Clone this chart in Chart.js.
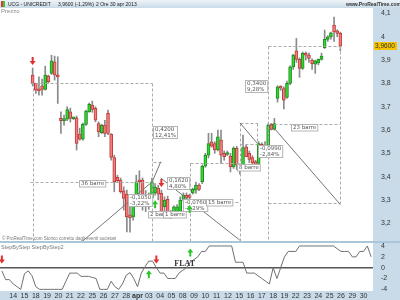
<!DOCTYPE html>
<html><head><meta charset="utf-8">
<script src="https://cdn.jsdelivr.net/npm/chart.js@4.4.0/dist/chart.umd.min.js"></script>
<style>
html,body{margin:0;padding:0;background:#fff;}
#wrap{position:relative;width:400px;height:300px;overflow:hidden;font-family:"Liberation Sans",Arial,sans-serif;}
#hdr{position:absolute;left:0;top:0;width:400px;height:8px;background:linear-gradient(#eef4f8,#c9dbe8);z-index:5;font-size:5px;line-height:8px;color:#222;white-space:nowrap;}
#hdr span{position:absolute;top:0;}
#icon{position:absolute;left:1px;top:1px;width:4px;height:6px;background:linear-gradient(90deg,#e33 50%,#3c3 50%);}
.lbl{position:absolute;white-space:nowrap;z-index:4;}
canvas{position:absolute;left:0;}
#sep{position:absolute;left:0;top:241px;width:400px;height:2px;background:#a9c6da;z-index:3;}
</style></head>
<body><div id="wrap">
<div id="hdr"><div id="icon"></div><span style="left:8px">UCG - UNICREDIT</span><span style="left:58px">3,9600 (-1,29%)</span><span style="left:96px">2 Ore</span><span style="left:110px">30 apr 2013</span><span style="left:346px;font-weight:bold;color:#333">www.ProRealTime.com</span></div>
<div class="lbl" style="left:1px;top:8px;font-size:6px;color:#888">Prezzo</div>
<div class="lbl" style="left:2px;top:236px;font-size:4.5px;color:#777">© ProRealTime.com  Storico corretto dagli eventi societari</div>
<div class="lbl" style="left:1px;top:244px;font-size:5.5px;color:#777">StepByStep StepByStep2</div>
<div id="sep"></div>
<canvas id="c1" width="400" height="243" style="top:0"></canvas>
<canvas id="c2" width="400" height="57" style="top:243px"></canvas>
</div>
<script>
// ---- data ----
const dayLabels = ['14','15','18','19','20','21','22','25','26','27','28','apr','03','04','05','08','09','10','11','12','15','16','17','18','19','22','23','24','25','26','29','30'];
const barsPerDay = 3;
const opens  = [3.836,3.800,3.774,3.788,3.774,3.831,3.843,3.893,3.836,3.650,3.640,3.646,3.678,3.648,3.652,3.582,3.561,3.624,3.678,3.707,3.693,3.628,3.588,3.621,3.671,3.582,3.482,3.397,3.385,3.339,3.325,3.236,3.227,3.285,3.380,3.385,3.310,3.300,3.307,3.330,3.351,3.328,3.271,3.302,3.238,3.242,3.242,3.242,3.302,3.321,3.321,3.330,3.342,3.364,3.378,3.445,3.492,3.549,3.542,3.514,3.557,3.500,3.495,3.488,3.442,3.521,3.425,3.449,3.528,3.500,3.482,3.464,3.457,3.539,3.520,3.535,3.625,3.603,3.736,3.788,3.778,3.740,3.800,3.871,3.940,3.903,3.864,3.929,3.921,3.900,3.883,3.888,3.903,3.953,3.989,4.000,4.050,4.026,4.015];
const highs  = [3.866,3.801,3.828,3.818,3.874,3.836,3.921,3.917,3.914,3.678,3.664,3.700,3.694,3.655,3.660,3.608,3.630,3.685,3.715,3.724,3.700,3.635,3.625,3.642,3.685,3.585,3.492,3.406,3.394,3.356,3.342,3.285,3.299,3.406,3.425,3.394,3.340,3.330,3.394,3.370,3.363,3.342,3.313,3.316,3.255,3.275,3.280,3.313,3.330,3.330,3.325,3.350,3.376,3.370,3.450,3.500,3.586,3.586,3.550,3.600,3.600,3.510,3.510,3.500,3.528,3.530,3.455,3.578,3.535,3.510,3.490,3.470,3.550,3.545,3.550,3.628,3.628,3.650,3.790,3.790,3.785,3.810,3.875,3.925,3.993,3.910,3.935,3.935,3.930,3.905,3.900,3.905,3.930,4.029,4.005,4.020,4.085,4.030,4.020];
const lows   = [3.789,3.757,3.750,3.750,3.771,3.801,3.839,3.814,3.714,3.585,3.621,3.640,3.634,3.645,3.514,3.556,3.556,3.620,3.676,3.676,3.635,3.571,3.585,3.571,3.580,3.471,3.335,3.376,3.329,3.256,3.163,3.161,3.213,3.272,3.295,3.256,3.250,3.260,3.285,3.320,3.300,3.234,3.234,3.234,3.220,3.230,3.235,3.238,3.295,3.300,3.300,3.325,3.328,3.340,3.370,3.440,3.480,3.526,3.500,3.510,3.456,3.470,3.490,3.420,3.435,3.430,3.410,3.445,3.485,3.460,3.445,3.432,3.450,3.515,3.515,3.520,3.600,3.600,3.720,3.770,3.690,3.735,3.795,3.860,3.890,3.826,3.860,3.900,3.890,3.860,3.843,3.880,3.900,3.950,3.980,3.990,3.980,4.000,3.940];
const closes = [3.800,3.771,3.768,3.774,3.836,3.807,3.897,3.836,3.828,3.640,3.646,3.688,3.650,3.652,3.542,3.561,3.624,3.681,3.710,3.688,3.642,3.592,3.621,3.585,3.585,3.482,3.378,3.382,3.335,3.306,3.227,3.223,3.286,3.378,3.378,3.306,3.300,3.310,3.378,3.355,3.325,3.242,3.299,3.242,3.242,3.270,3.270,3.299,3.321,3.307,3.311,3.345,3.364,3.345,3.445,3.492,3.542,3.531,3.514,3.571,3.492,3.485,3.500,3.442,3.521,3.449,3.449,3.525,3.485,3.474,3.459,3.442,3.542,3.521,3.535,3.621,3.603,3.628,3.785,3.780,3.728,3.800,3.871,3.921,3.903,3.864,3.929,3.921,3.907,3.885,3.897,3.903,3.917,3.989,4.000,4.017,4.021,4.015,3.960];
const stepValues = [-0.6,-2.2,-2.2,-3,-3.5,-4,-1.1,-0.6,-1.5,-3.5,-4,-4,-4,-4,-4,-4,-4,-2.5,-1,-1,-1,-1.6,-1.6,-1.6,-1.8,-2,-4,-4,-4,-2.5,-3.5,-4,-3,-1.4,-0.9,-2,-3.5,-1,0.2,1.2,1.2,0,-1,-1,-2,-2,-2,-1,-0.5,0,1,1.5,2,3,3,4,4,4,4,4,4,4,1,1,1,-1,-1,-1,-1.5,-2,-2.5,-3,0,-2,0,2,3,3,3,4,4,4,4,4,4,4,4,4,4,3.5,3,3,3,2,2,3,3,4,2];
const priceTicks = [3.2,3.3,3.4,3.5,3.6,3.7,3.8,3.9,4.0,4.1];
const stepTicks = [-4,-2,0,2,4];
const lastPrice = 3.96;
const sellBars = [0, 41];
const buyBars = [39, 50];
const sellLevels = [1.5, 1.5];   // marker levels in the StepByStep panel
const buyLevels = [-1.2, 2.8];
const flatNote = {b:48.5, v:0.6, t:'FLAT'};

// drawing-tool objects, in (bar, price) units; 'B' = bottom of panel
const dashedSegs = [
 [-0.7,3.80,38.1,3.80],[-0.7,3.378,38.1,3.378],[0,3.80,0,'B'],[38.1,3.80,38.1,'B'],
 [38.3,3.464,40.8,3.464],
 [50,3.458,66,3.458],[50,3.29,66,3.29],[50,3.458,50,'B'],[66,3.631,66,'B'],
 [66,3.631,71.6,3.631],[71.6,3.631,71.6,3.542],[66,3.542,71.6,3.542],
 [74.8,3.96,98,3.96],[74.8,3.96,74.8,'B'],[98,3.96,98,3.286],[74.8,3.286,98,3.286],[76.9,3.625,98,3.625]
];
const solidSegs = [
 [15.2,3.115,38.1,3.378],[38.1,3.378,40.8,3.464],[40.8,3.394,66,3.127],[66,3.631,71.6,3.542],[75.8,3.625,98,3.28]
];
const noteBoxes = [
 {b:19,p:3.37,a:'c',t:['36 barre']},
 {b:38.2,p:3.59,a:'l',t:['0,4200','12,41%']},
 {b:38.0,p:3.30,a:'r',t:['-0,1050','-3,22%']},
 {b:40.3,p:3.24,a:'c',t:['2 barre']},
 {b:45,p:3.24,a:'c',t:['1 barre']},
 {b:50,p:3.372,a:'r',t:['0,1620','4,80%']},
 {b:47.9,p:3.28,a:'l',t:['-0,0760','-2,29%']},
 {b:59.5,p:3.29,a:'c',t:['15 barre']},
 {b:68.7,p:3.44,a:'c',t:['8 barre']},
 {b:71.7,p:3.51,a:'l',t:['-0,0990','-2,84%']},
 {b:74.7,p:3.79,a:'r',t:['0,3400','9,28%']},
 {b:86.5,p:3.61,a:'c',t:['23 barre']}
];

const idx = opens.map((_,i)=>i);
const fmt = v => String(Math.round(v*10)/10).replace('.',',');
const STRIP = '#c9dbe8';
const GREEN='#33d633', GREEN_B='#1b8f1b', RED='#f07f7f', RED_B='#c23a3a';
const noPad = s => { s.paddingTop=0; s.paddingBottom=0; s.paddingLeft=0; s.paddingRight=0; };
const noGrid = {display:false, drawTicks:false, tickLength:0};

function arrow(ctx,x,y,up,color){
  ctx.save();ctx.fillStyle=color;ctx.beginPath();
  if(up){ctx.moveTo(x,y-4);ctx.lineTo(x+3,y);ctx.lineTo(x+1,y);ctx.lineTo(x+1,y+4);ctx.lineTo(x-1,y+4);ctx.lineTo(x-1,y);ctx.lineTo(x-3,y);}
  else{ctx.moveTo(x,y+4);ctx.lineTo(x+3,y);ctx.lineTo(x+1,y);ctx.lineTo(x+1,y-4);ctx.lineTo(x-1,y-4);ctx.lineTo(x-1,y);ctx.lineTo(x-3,y);}
  ctx.closePath();ctx.fill();ctx.restore();
}

const pricePlugin = {
 id:'pp',
 beforeDraw(chart){
  const {ctx,chartArea:ca,width,height}=chart;
  ctx.save();ctx.fillStyle='#fff';ctx.fillRect(0,0,width,height);
  ctx.fillStyle=STRIP;ctx.fillRect(ca.right,0,width-ca.right,height);ctx.restore();
 },
 afterDatasetsDraw(chart){
  const {ctx,chartArea:ca,scales:{x,y}}=chart;
  const py = p => p==='B'? ca.bottom : y.getPixelForValue(p);
  ctx.save();
  ctx.beginPath();ctx.rect(ca.left,ca.top,ca.right-ca.left+1,ca.bottom-ca.top);ctx.clip();
  ctx.lineWidth=1;ctx.strokeStyle='#aaa';ctx.setLineDash([3,2]);
  dashedSegs.forEach(s=>{ctx.beginPath();ctx.moveTo(Math.round(x.getPixelForValue(s[0]))+0.5,Math.round(py(s[1]))+0.5);ctx.lineTo(Math.round(x.getPixelForValue(s[2]))+0.5,Math.round(py(s[3]))+0.5);ctx.stroke();});
  ctx.setLineDash([]);ctx.strokeStyle='#777';
  solidSegs.forEach(s=>{ctx.beginPath();ctx.moveTo(x.getPixelForValue(s[0]),py(s[1]));ctx.lineTo(x.getPixelForValue(s[2]),py(s[3]));ctx.stroke();});
  ctx.font='5.5px "DejaVu Sans"';ctx.textBaseline='middle';
  noteBoxes.forEach(n=>{
    const w=Math.max(...n.t.map(t=>ctx.measureText(t).width))+3, h=n.t.length*5.5+1;
    const cx=x.getPixelForValue(n.b), cy=y.getPixelForValue(n.p);
    let left = n.a==='c'? cx-w/2 : n.a==='l'? cx : cx-w;
    left=Math.round(left)+0.5; const top=Math.round(cy-h/2)+0.5;
    ctx.fillStyle='#fff';ctx.fillRect(left,top,w,h);ctx.strokeStyle='#b5b5b5';ctx.strokeRect(left,top,w,h);
    ctx.fillStyle='#555';n.t.forEach((t,k)=>ctx.fillText(t,left+1.5,top+3.3+k*5.5));
  });
  sellBars.forEach(b=>arrow(ctx,x.getPixelForValue(b),y.getPixelForValue(highs[b])-7,false,'#e03030'));
  buyBars.forEach(b=>arrow(ctx,x.getPixelForValue(b),y.getPixelForValue(lows[b])+9,true,'#2cc52c'));
  ctx.restore();
 },
 afterDraw(chart){
  const {ctx,chartArea:ca,scales:{y}}=chart;
  const cy=y.getPixelForValue(lastPrice);
  ctx.save();ctx.fillStyle='#f5c400';ctx.fillRect(ca.right+1,Math.round(cy)-4,23,8);
  ctx.fillStyle='#333';ctx.font='6.5px "Liberation Sans"';ctx.textBaseline='middle';ctx.fillText(lastPrice.toFixed(4).replace('.',','),ca.right+2,Math.round(cy));
  ctx.restore();
 }
};

new Chart(document.getElementById('c1'),{
 type:'bar',
 data:{datasets:[
  {data:idx.map(i=>({x:i,y:[lows[i],highs[i]]})),backgroundColor:'#8a8a8a',barThickness:1,grouped:false,order:2,borderWidth:0},
  {data:idx.map(i=>({x:i,y:[opens[i],closes[i]]})),
   backgroundColor:idx.map(i=>closes[i]>=opens[i]?GREEN:RED),
   borderColor:idx.map(i=>closes[i]>=opens[i]?GREEN_B:RED_B),
   borderWidth:1,borderSkipped:false,barThickness:3,minBarLength:2,grouped:false,order:1}
 ]},
 options:{
  responsive:false,animation:false,devicePixelRatio:1,
  layout:{padding:{top:10,left:0,right:0,bottom:0},autoPadding:false},
  plugins:{legend:{display:false},tooltip:{enabled:false}},
  scales:{
   x:{type:'linear',min:-0.5,max:98.5,display:false},
   y:{type:'linear',position:'right',min:3.115,max:4.115,
      afterFit(s){s.width=27;noPad(s);},
      afterBuildTicks(s){s.ticks=priceTicks.map(v=>({value:v}));},
      ticks:{callback:v=>fmt(v),font:{size:7,family:'"Liberation Sans"'},color:'#333',padding:8,autoSkip:false},
      grid:noGrid,border:{display:false}}
  }
 },
 plugins:[pricePlugin]
});

const stepPlugin = {
 id:'sp',
 beforeDraw(chart){
  const {ctx,chartArea:ca,width,height}=chart;
  ctx.save();ctx.fillStyle='#fff';ctx.fillRect(0,0,width,height);
  ctx.fillStyle=STRIP;ctx.fillRect(ca.right,0,width-ca.right,height);ctx.fillRect(0,ca.bottom,width,height-ca.bottom);ctx.restore();
 },
 beforeDatasetsDraw(chart){
  const {ctx,chartArea:ca,scales:{y}}=chart;
  const z=Math.round(y.getPixelForValue(0));
  ctx.save();ctx.fillStyle='#555';ctx.fillRect(ca.left,z-1,ca.right-ca.left,1.5);ctx.restore();
 },
 afterDatasetsDraw(chart){
  const {ctx,scales:{x,y}}=chart;
  sellBars.forEach((b,k)=>arrow(ctx,x.getPixelForValue(b),y.getPixelForValue(sellLevels[k]),false,'#e03030'));
  buyBars.forEach((b,k)=>arrow(ctx,x.getPixelForValue(b),y.getPixelForValue(buyLevels[k]),true,'#2cc52c'));
  ctx.save();ctx.font='bold 8px "Liberation Serif"';ctx.fillStyle='#333';ctx.textAlign='center';ctx.textBaseline='middle';
  ctx.fillText(flatNote.t,x.getPixelForValue(flatNote.b),y.getPixelForValue(flatNote.v));ctx.restore();
 }
};

new Chart(document.getElementById('c2'),{
 type:'line',
 data:{datasets:[{data:idx.map(i=>({x:i,y:stepValues[i]})),borderColor:'#707070',borderWidth:1,pointRadius:0,tension:0}]},
 options:{
  responsive:false,animation:false,devicePixelRatio:1,
  layout:{padding:{top:0,left:0,right:0,bottom:0},autoPadding:false},
  plugins:{legend:{display:false},tooltip:{enabled:false}},
  scales:{
   x:{type:'linear',min:-0.5,max:98.5,
      afterBuildTicks(s){s.ticks=dayLabels.map((_,k)=>({value:(k+1)*barsPerDay}));},
      afterFit(s){s.height=9;noPad(s);},
      ticks:{callback:(v,i)=>dayLabels[i],autoSkip:false,maxRotation:0,padding:1,color:'#333',
        font:c=>({size:7,family:'"Liberation Sans"',weight:(c.index===11?'bold':'normal')})},
      grid:noGrid,border:{display:false}},
   y:{type:'linear',position:'right',min:-4.3,max:4.55,
      afterFit(s){s.width=27;noPad(s);},
      afterBuildTicks(s){s.ticks=stepTicks.map(v=>({value:v}));},
      ticks:{callback:v=>String(v),font:{size:7,family:'"Liberation Sans"'},color:'#333',padding:8,autoSkip:false},
      grid:noGrid,border:{display:false}}
  }
 },
 plugins:[stepPlugin]
});
</script>
</body></html>
